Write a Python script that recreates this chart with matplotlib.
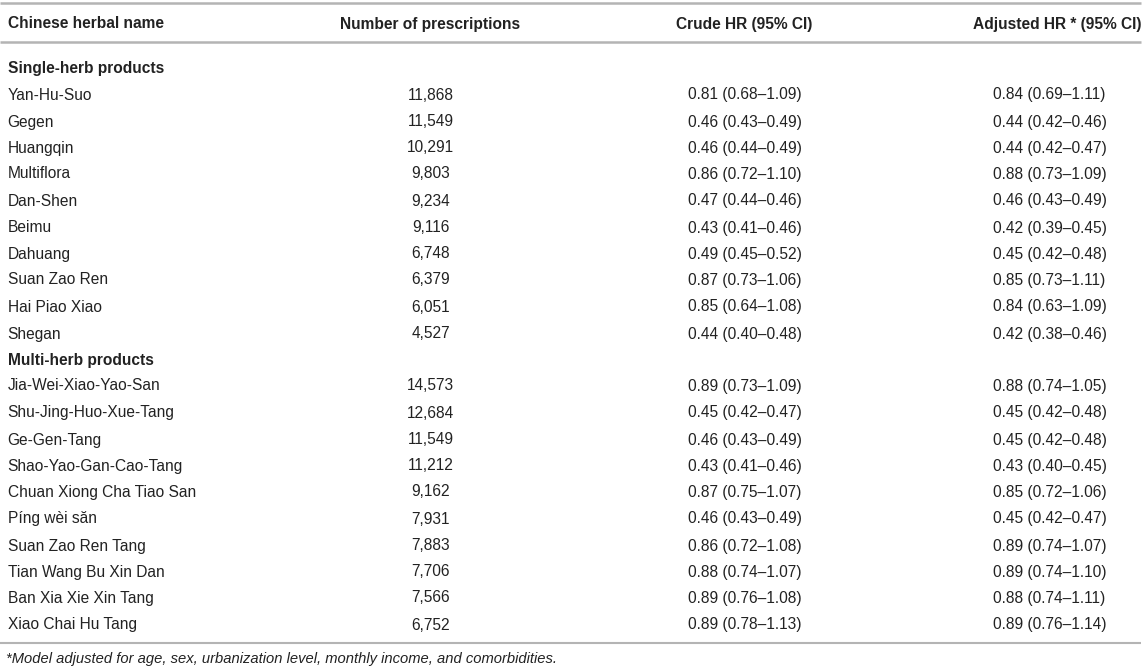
import matplotlib
matplotlib.use("Agg")
import matplotlib.pyplot as plt

plt.rcParams['font.family'] = ['Liberation Sans', 'DejaVu Sans']

columns = ["Chinese herbal name", "Number of prescriptions",
           "Crude HR (95% CI)", "Adjusted HR * (95% CI)"]

single_names = ["Yan-Hu-Suo", "Gegen", "Huangqin", "Multiflora", "Dan-Shen",
                "Beimu", "Dahuang", "Suan Zao Ren", "Hai Piao Xiao", "Shegan"]
single_counts = [11868, 11549, 10291, 9803, 9234, 9116, 6748, 6379, 6051, 4527]
single_crude = ["0.81 (0.68–1.09)", "0.46 (0.43–0.49)", "0.46 (0.44–0.49)",
                "0.86 (0.72–1.10)", "0.47 (0.44–0.46)", "0.43 (0.41–0.46)",
                "0.49 (0.45–0.52)", "0.87 (0.73–1.06)", "0.85 (0.64–1.08)",
                "0.44 (0.40–0.48)"]
single_adj = ["0.84 (0.69–1.11)", "0.44 (0.42–0.46)", "0.44 (0.42–0.47)",
              "0.88 (0.73–1.09)", "0.46 (0.43–0.49)", "0.42 (0.39–0.45)",
              "0.45 (0.42–0.48)", "0.85 (0.73–1.11)", "0.84 (0.63–1.09)",
              "0.42 (0.38–0.46)"]

multi_names = ["Jia-Wei-Xiao-Yao-San", "Shu-Jing-Huo-Xue-Tang", "Ge-Gen-Tang",
               "Shao-Yao-Gan-Cao-Tang", "Chuan Xiong Cha Tiao San", "Píng wèi săn",
               "Suan Zao Ren Tang", "Tian Wang Bu Xin Dan", "Ban Xia Xie Xin Tang",
               "Xiao Chai Hu Tang"]
multi_counts = [14573, 12684, 11549, 11212, 9162, 7931, 7883, 7706, 7566, 6752]
multi_crude = ["0.89 (0.73–1.09)", "0.45 (0.42–0.47)", "0.46 (0.43–0.49)",
               "0.43 (0.41–0.46)", "0.87 (0.75–1.07)", "0.46 (0.43–0.49)",
               "0.86 (0.72–1.08)", "0.88 (0.74–1.07)", "0.89 (0.76–1.08)",
               "0.89 (0.78–1.13)"]
multi_adj = ["0.88 (0.74–1.05)", "0.45 (0.42–0.48)", "0.45 (0.42–0.48)",
             "0.43 (0.40–0.45)", "0.85 (0.72–1.06)", "0.45 (0.42–0.47)",
             "0.89 (0.74–1.07)", "0.89 (0.74–1.10)", "0.88 (0.74–1.11)",
             "0.89 (0.76–1.14)"]

sections = ["Single-herb products", "Multi-herb products"]
footnote = "*Model adjusted for age, sex, urbanization level, monthly income, and comorbidities."

W, H = 1143, 669
fig = plt.figure(figsize=(W / 100, H / 100), dpi=100)
ax = fig.add_axes([0, 0, 1, 1])
ax.set_xlim(0, W)
ax.set_ylim(H, 0)
ax.axis('off')

txt = '#222222'
line_c = '#b4b4b4'
fs = 11.2
bo = 5.5  # baseline offset from visual centre

# column anchors
x_name = 7
x_cnt = 430
x_crude = 744
x_adj = 1049

def put(x, y, s, ha, **kw):
    yb = round(y + bo) + 0.5
    ax.text(round(x) + 0.5, yb, s, ha=ha, va='baseline', fontsize=fs, color=txt, **kw)

# header
hy = 22
put(x_name, hy, columns[0], 'left', fontweight='bold')
put(x_cnt, hy, columns[1], 'center', fontweight='bold')
put(x_crude, hy, columns[2], 'center', fontweight='bold')
put(1141, hy, columns[3], 'right', fontweight='bold')

ax.plot([0, 1141], [3, 3], color=line_c, lw=1.8, solid_capstyle='butt')
ax.plot([0, 1141], [42, 42], color=line_c, lw=1.8, solid_capstyle='butt')

y0 = 67
dy = 26.5
row = 0
for sec, names, counts, crude, adj in [
        (sections[0], single_names, single_counts, single_crude, single_adj),
        (sections[1], multi_names, multi_counts, multi_crude, multi_adj)]:
    y = y0 + dy * row
    put(x_name, y, sec, 'left', fontweight='bold')
    row += 1
    for n, c, cr, ad in zip(names, counts, crude, adj):
        y = y0 + dy * row
        put(x_name, y, n, 'left')
        put(x_cnt, y, f"{c:,}", 'center')
        put(x_crude, y, cr, 'center')
        put(x_adj, y, ad, 'center')
        row += 1

ax.plot([0, 1141], [643, 643], color=line_c, lw=1.5, solid_capstyle='butt')
ax.text(5.5, 663.5, footnote, ha='left', va='baseline', fontsize=10.6,
        style='italic', color=txt)

fig.savefig("out.png", dpi=100, facecolor='white')
